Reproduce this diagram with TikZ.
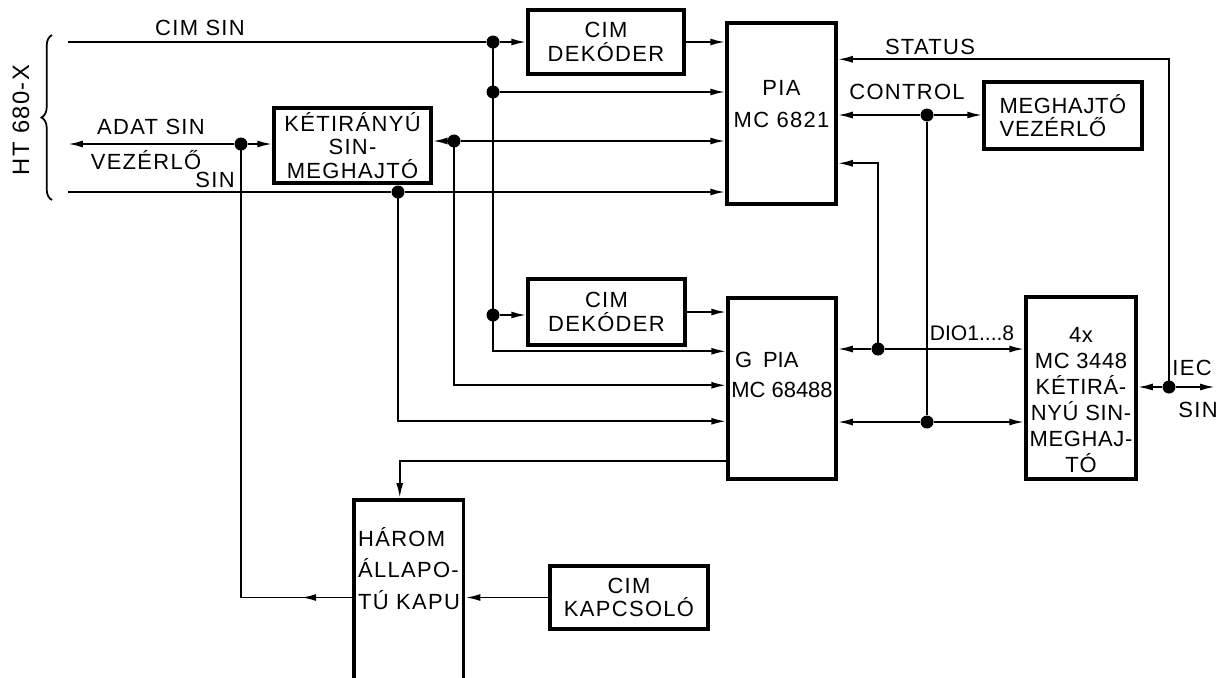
\documentclass[tikz,border=0pt]{standalone}
\usepackage{fontspec}
\setmainfont{Liberation Sans}[LetterSpace=6]
\usetikzlibrary{arrows.meta, positioning, calc, decorations.pathreplacing, decorations.markings}

\begin{document}
\begin{tikzpicture}[
    x=0.02cm, y=-0.02cm,
    >={Latex[length=3mm, width=1.4mm]},
    font=\fontsize{12.5}{13.5}\selectfont,
    % Stílusok
    blockbox/.style={rectangle, draw, line width=2pt, align=center, inner sep=1pt},
    boxtext/.style={inner sep=1pt, align=center},
    busline/.style={line width=1.1pt},
    dotnode/.style={circle, fill, inner sep=0pt, minimum size=2.6mm},
    buslabel/.style={inner sep=1pt},
    midarrow/.style={postaction={decorate}, decoration={markings, mark=at position #1 with {\arrow{>}}}}
]
\useasboundingbox (0,0) rectangle (1217,677);

% -------------------------
% BLOKKOK
% -------------------------
\node[blockbox, minimum width=3.12cm, minimum height=1.28cm] (dekA) at (606,42) {CIM\\DEKÓDER};
\node[blockbox, minimum width=3.14cm, minimum height=1.5cm] (ket) at (352.5,145.5) {KÉTIRÁNYÚ\\SIN-\\MEGHAJTÓ};
\node[blockbox, minimum width=3.16cm, minimum height=1.34cm, align=left,
      font=\fontsize{12.5}{13.5}\selectfont\addfontfeature{LetterSpace=3}] (meg) at (1063,115.5) {MEGHAJTÓ\\VEZÉRLŐ};
\node[blockbox, minimum width=3.14cm, minimum height=1.32cm] (dekB) at (606.5,312) {CIM\\DEKÓDER};
\node[blockbox, minimum width=3.16cm, minimum height=1.26cm] (kap) at (629,597.5) {CIM\\KAPCSOLÓ};

% magas dobozok, a szöveg külön
\node[blockbox, minimum width=2.18cm, minimum height=3.62cm] (pia) at (781.5,113.5) {};
\node[boxtext] (piaT) at ($(pia.center)+(0,-9.5)$) {PIA\\[4.5pt]MC 6821};

\node[blockbox, minimum width=2.16cm, minimum height=3.62cm] (gpia) at (782,388.5) {};
\node[boxtext, align=left, font=\fontsize{12.5}{13.5}\selectfont\addfontfeature{LetterSpace=0}] (gpiaT) at ($(gpia.center)+(0,-13.5)$) {\,G\enspace PIA\\[3.5pt]MC 68488};

\node[blockbox, minimum width=2.2cm, minimum height=3.64cm] (ic) at (1081,388) {};
\node[boxtext, font=\fontsize{12.5}{13.5}\selectfont\addfontfeature{LetterSpace=3}] (icT) at ($(ic.center)+(0,12)$)
    {4x\\[1.2pt]MC 3448\\[1.2pt]KÉTIRÁ-\\[1.2pt]NYÚ SIN-\\[1.2pt]MEGHAJ-\\[1.2pt]TÓ};

\node[blockbox, anchor=north west, minimum width=2.2cm, minimum height=4.2cm] (harom) at (352,498) {};
\node[boxtext, anchor=north west, align=left] (haromT) at (356,525) {HÁROM\\[4.5pt]ÁLLAPO-\\[4.5pt]TÚ KAPU};

% -------------------------
% CSOMOPONTOK
% -------------------------
\node[dotnode] (cA) at (493,42) {};
\node[dotnode] (cB) at (493,92) {};
\node[dotnode] (cC) at (493,315) {};
\node[dotnode] (aD) at (241,144) {};
\node[dotnode] (kD) at (454,141) {};
\node[dotnode] (vD) at (398,192) {};
\node[dotnode] (ctl) at (927,115) {};
\node[dotnode] (dio) at (878,349) {};
\node[dotnode] (low) at (927,422) {};
\node[dotnode] (iec) at (1169,387) {};

\coordinate (cimL) at (68,42);
\coordinate (adatL) at (68,144);
\coordinate (vezL) at (68,192);
\coordinate (iecR) at (1215,387);
\coordinate (braceBot) at (52,200);
\coordinate (braceTop) at (52,35);
\coordinate (g2) at ($(gpia.north west)+(0,55)$);
\coordinate (g3) at ($(gpia.north west)+(0,89)$);
\coordinate (g4) at ($(gpia.north west)+(0,125)$);
\coordinate (g5) at ($(gpia.north west)+(0,165)$);
\coordinate (p1) at ($(pia.north east)+(0,38)$);
\coordinate (p4) at ($(pia.north east)+(0,142)$);
\coordinate (hIn) at ($(harom.north)+(-9,0)$);

% -------------------------
% HT 680-X SÍNEK
% -------------------------
\draw[decorate, decoration={brace, amplitude=6pt}, line width=1pt] (braceBot) -- (braceTop);
\node[rotate=90, font=\fontsize{13.5}{14}\selectfont] (lHt) at (21,120) {HT 680-X};

\draw[busline] (cimL) -- (cA);
\draw[busline,->] (cA) -- (cA -| dekA.west);
\draw[busline,->] (dekA.east) -- (dekA.east -| pia.west);
\draw[busline,->] (cB) -- (cB -| pia.west);
\draw[busline,->] (cA.center) |- (g2);
\draw[busline,->] (cC) -- (cC -| dekB.west);
\draw[busline,->] (dekB.east) -- (dekB.east -| gpia.west);

\draw[busline,->] (aD) -- (adatL);
\draw[busline,->] (aD) -- (aD -| ket.west);
\draw[busline,->] (kD) -- (kD -| ket.east);
\draw[busline,->] (kD) -- (kD -| pia.west);
\draw[busline,->] (kD.center) |- (g3);

\draw[busline] (vezL) -- (vD);
\draw[busline,->] (vD) -- (vD -| pia.west);
\draw[busline,->] (vD.center) |- (g4);

% Három állapotú kapu
\draw[busline,->] (g5) -| (hIn);
\draw[busline,->] (kap.west) -- (kap.west -| harom.east);
\draw[busline, midarrow=0.09] (kap.west -| harom.west) -| (aD.center);

% -------------------------
% JOBB OLDAL (IEC)
% -------------------------
\draw[busline,->] (ctl) -- (ctl -| pia.east);
\draw[busline,->] (ctl) -- (ctl -| meg.west);
\draw[busline] (ctl) -- (low);
\draw[busline,->] (low) -- (low -| gpia.east);
\draw[busline,->] (low) -- (low -| ic.west);
\draw[busline,->] (dio) -- (dio -| gpia.east);
\draw[busline,->] (dio) -- (dio -| ic.west);
\draw[busline,->] (dio.center) |- (p4);
\draw[busline,->] (iec.center) |- (p1);
\draw[busline,->] (iec) -- (iec -| ic.east);
\draw[busline,->] (iec) -- (iecR);

% Feliratok
\node[buslabel] (lCim) at (200,28) {CIM SIN};
\node[buslabel] (lAdat) at (151,127) {ADAT SIN};
\node[buslabel] (lVez) at (146,160) {VEZÉRLŐ};
\node[buslabel] (lVezSin) at (215,180) {SIN};
\node[buslabel] (lStatus) at (930,47) {STATUS};
\node[buslabel] (lCtl) at (907,92) {CONTROL};
\node[buslabel, font=\fontsize{12}{13}\selectfont\addfontfeature{LetterSpace=0}] (lDio) at (972,333) {DIO1....8};
\node[buslabel] (lIec) at (1192,368) {IEC};
\node[buslabel] (lIecSin) at (1198,410) {SIN};

\end{tikzpicture}
\end{document}
